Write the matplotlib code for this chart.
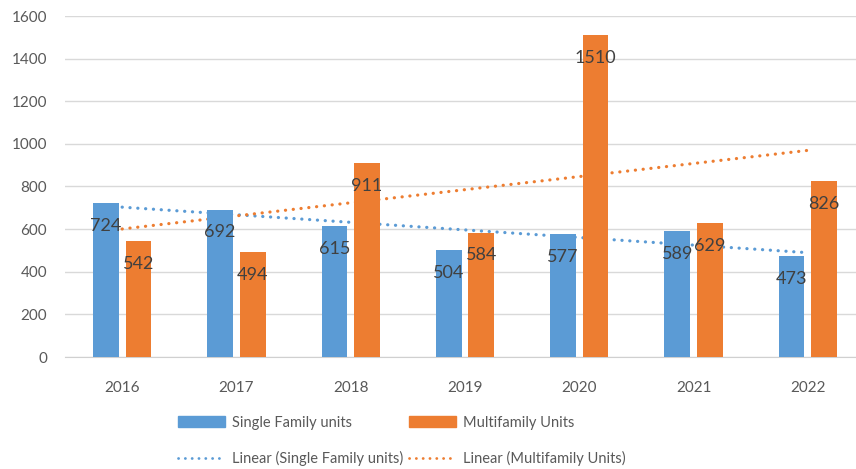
import numpy as np
import matplotlib
matplotlib.use("Agg")
import matplotlib.pyplot as plt
from matplotlib.lines import Line2D
from matplotlib.patches import Patch

years = ["2016", "2017", "2018", "2019", "2020", "2021", "2022"]
single = [724, 692, 615, 504, 577, 589, 473]
multi = [542, 494, 911, 584, 1510, 629, 826]
yticks = [0, 200, 400, 600, 800, 1000, 1200, 1400, 1600]

BLUE = "#5B9BD5"
ORANGE = "#ED7D31"
plt.rcParams['font.family'] = ['Lato', 'DejaVu Sans']

W, H = 856, 469
fig = plt.figure(figsize=(W / 100, H / 100), dpi=100)
ax = fig.add_axes([65 / W, (H - 357) / H, 800 / W, (357 - 16) / H])

x = np.arange(len(years))
bw = 0.225
off = 0.143
ax.bar(x - off, single, bw, color=BLUE, zorder=3)
ax.bar(x + off, multi, bw, color=ORANGE, zorder=3)

# linear trendlines (least squares on the data)
ps = np.polyfit(x, single, 1)
pm = np.polyfit(x, multi, 1)
dots = (0, (0.05, 2.4))
ax.plot(x, np.polyval(ps, x), color=BLUE, lw=2.3, linestyle=dots,
        dash_capstyle='round', zorder=2)
ax.plot(x, np.polyval(pm, x), color=ORANGE, lw=2.3, linestyle=dots,
        dash_capstyle='round', zorder=2)

for xi, v in zip(x, single):
    ax.annotate(str(v), (xi - off, v), xytext=(0, -16.5), textcoords='offset points',
                ha='center', va='center', fontsize=13, color='#404040', zorder=5)
for xi, v in zip(x, multi):
    ax.annotate(str(v), (xi + off, v), xytext=(0, -16.5), textcoords='offset points',
                ha='center', va='center', fontsize=13, color='#404040', zorder=5)

ax.set_xlim(-0.5, 6.5)
ax.set_ylim(0, 1600)
ax.set_yticks(yticks)
ax.set_yticklabels([str(t) for t in yticks])
ax.set_xticks(x)
ax.set_xticklabels(years)
ax.tick_params(axis='both', length=0, labelsize=11, colors='#595959')
ax.tick_params(axis='x', pad=17)
ax.tick_params(axis='y', pad=13)
ax.grid(axis='y', color='#d9d9d9', lw=1, zorder=0)
for s in ['top', 'right', 'left']:
    ax.spines[s].set_visible(False)
ax.spines['bottom'].set_color('#d0d0d0')
ax.spines['bottom'].set_zorder(1)

handles = [
    Patch(color=BLUE),
    Line2D([0], [0], color=BLUE, lw=2, linestyle=dots, dash_capstyle='round'),
    Patch(color=ORANGE),
    Line2D([0], [0], color=ORANGE, lw=2, linestyle=dots, dash_capstyle='round'),
]
labels = ["Single Family units", "Linear (Single Family units)",
          "Multifamily Units", "Linear (Multifamily Units)"]
fig.legend(handles, labels, ncol=2, loc='center', bbox_to_anchor=(402 / W, 1 - 441 / H),
           frameon=False, fontsize=10.5, labelcolor='#595959', handlelength=3.2,
           handleheight=0.7, handletextpad=0.5, columnspacing=0.4, labelspacing=1.5)

fig.savefig("out.png", dpi=100)
